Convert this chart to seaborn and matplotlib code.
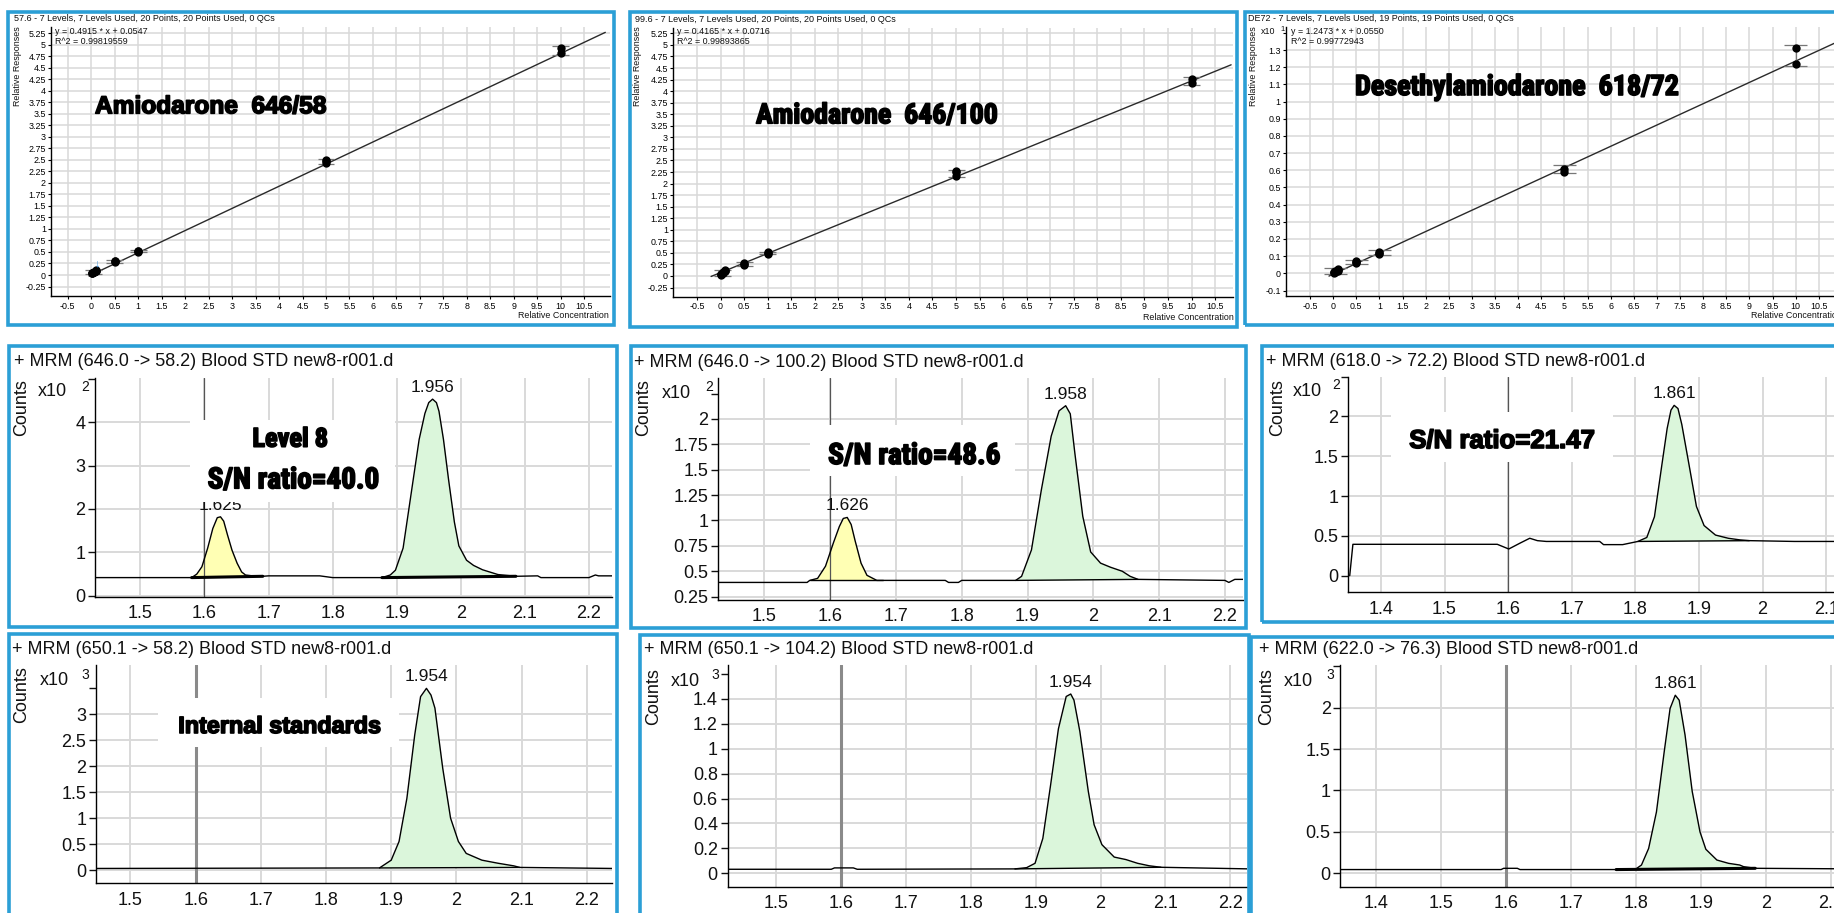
import os
import numpy as np
import matplotlib
matplotlib.use("Agg")
import matplotlib.pyplot as plt
import matplotlib.patheffects as pe
from matplotlib import font_manager as fm
from matplotlib.textpath import TextPath
import seaborn as sns
from matplotlib.patches import Rectangle
from matplotlib.ticker import FixedLocator, FuncFormatter

# ====================== DATA ======================
# --- calibration curves (top row) ---
cal1_title = "57.6 - 7 Levels, 7 Levels Used, 20 Points, 20 Points Used, 0 QCs"
cal1_eq = ["y = 0.4915 * x + 0.0547", "R^2 = 0.99819559"]
cal1_name = "Amiodarone  646/58"
cal1_x = [0.02, 0.02, 0.02, 0.05, 0.05, 0.05, 0.1, 0.1, 0.1, 0.5, 0.5, 0.5, 1, 1, 1, 5, 5, 5, 10, 10]
cal1_y = [0.04, 0.05, 0.05, 0.06, 0.07, 0.06, 0.08, 0.09, 0.10, 0.28, 0.30, 0.31, 0.50, 0.52, 0.53, 2.44, 2.47, 2.49, 4.82, 4.93]
fit1_x = [-0.05, 10.95]
fit1_y = [-0.02, 5.27]
err1_x = [0.05, 0.5, 1, 5, 10]
err1_lo = [0.02, 0.27, 0.49, 2.42, 4.78]
err1_hi = [0.10, 0.32, 0.54, 2.51, 4.97]

cal2_title = "99.6 - 7 Levels, 7 Levels Used, 20 Points, 20 Points Used, 0 QCs"
cal2_eq = ["y = 0.4165 * x + 0.0716", "R^2 = 0.99893865"]
cal2_name = "Amiodarone  646/100"
cal2_x = [0.02, 0.02, 0.02, 0.05, 0.05, 0.05, 0.1, 0.1, 0.1, 0.5, 0.5, 0.5, 1, 1, 1, 5, 5, 5, 10, 10]
cal2_y = [0.02, 0.04, 0.05, 0.06, 0.07, 0.08, 0.10, 0.11, 0.12, 0.23, 0.26, 0.29, 0.48, 0.50, 0.51, 2.17, 2.24, 2.28, 4.17, 4.27]
fit2_x = [-0.2, 10.84]
fit2_y = [-0.01, 4.57]
err2_x = [0.05, 0.5, 1, 5, 10]
err2_lo = [0.00, 0.22, 0.47, 2.15, 4.14]
err2_hi = [0.13, 0.30, 0.52, 2.30, 4.30]

cal3_title = "DE72 - 7 Levels, 7 Levels Used, 19 Points, 19 Points Used, 0 QCs"
cal3_eq = ["y = 1.2473 * x + 0.0550", "R^2 = 0.99772943"]
cal3_name = "Desethylamiodarone  618/72"
cal3_x = [0.02, 0.02, 0.02, 0.05, 0.05, 0.05, 0.1, 0.1, 0.1, 0.5, 0.5, 0.5, 1, 1, 1, 5, 5, 10, 10]
cal3_y = [0.0, 0.005, 0.01, 0.005, 0.01, 0.015, 0.015, 0.02, 0.025, 0.06, 0.065, 0.07, 0.115, 0.12, 0.125, 0.59, 0.61, 1.22, 1.31]
fit3_x = [-0.09, 11.0]
fit3_y = [-0.016, 1.36]
err3_x = [0.05, 0.5, 1, 5, 10]
err3_lo = [-0.005, 0.055, 0.105, 0.585, 1.205]
err3_hi = [0.03, 0.075, 0.135, 0.63, 1.33]

cal_xticks = [-0.5, 0, 0.5, 1, 1.5, 2, 2.5, 3, 3.5, 4, 4.5, 5, 5.5, 6, 6.5, 7, 7.5, 8, 8.5, 9, 9.5, 10, 10.5]
cal12_yticks = [-0.25, 0, 0.25, 0.5, 0.75, 1, 1.25, 1.5, 1.75, 2, 2.25, 2.5, 2.75, 3, 3.25, 3.5, 3.75, 4, 4.25, 4.5, 4.75, 5, 5.25]
cal3_yticks = [-0.1, 0, 0.1, 0.2, 0.3, 0.4, 0.5, 0.6, 0.7, 0.8, 0.9, 1, 1.1, 1.2, 1.3]

# --- chromatograms ---
ch1_title = "+ MRM (646.0 -> 58.2) Blood STD new8-r001.d"
ch1_t = [1.42, 1.58, 1.588, 1.596, 1.605, 1.613, 1.62, 1.625, 1.63, 1.636, 1.643, 1.651, 1.658, 1.664, 1.675, 1.691,
         1.70, 1.78, 1.79, 1.80, 1.877, 1.89, 1.898, 1.91, 1.923, 1.935, 1.944, 1.95, 1.956, 1.962, 1.966, 1.973, 1.981,
         1.99, 1.997, 2.009, 2.02, 2.034, 2.058, 2.086, 2.12, 2.125, 2.20, 2.21, 2.215, 2.24]
ch1_c = [0.42, 0.42, 0.50, 0.67, 1.10, 1.55, 1.80, 1.82, 1.72, 1.40, 1.05, 0.75, 0.55, 0.48, 0.46, 0.45,
         0.46, 0.46, 0.44, 0.42, 0.42, 0.48, 0.59, 1.10, 2.40, 3.60, 4.20, 4.45, 4.53, 4.45, 4.25, 3.60, 2.67,
         1.70, 1.15, 0.82, 0.70, 0.60, 0.49, 0.45, 0.46, 0.42, 0.42, 0.48, 0.46, 0.46]
ch1_peaks = [(1.58, 1.691, "yellow", True), (1.877, 2.086, "green", True)]
ch1_labels = [(1.625, 1.82, "1.625"), (1.956, 4.53, "1.956")]
ch1_yticks = [0, 1, 2, 3, 4]

ch2_title = "+ MRM (646.0 -> 100.2) Blood STD new8-r001.d"
ch2_t = [1.43, 1.565, 1.569, 1.581, 1.593, 1.605, 1.614, 1.62, 1.626, 1.632, 1.638, 1.647, 1.656, 1.671, 1.68,
         1.775, 1.78, 1.795, 1.80, 1.882, 1.891, 1.906, 1.921, 1.936, 1.948, 1.958, 1.965, 1.972, 1.984, 1.996,
         2.011, 2.026, 2.044, 2.056, 2.068, 2.20, 2.206, 2.215, 2.23]
ch2_c = [0.39, 0.39, 0.41, 0.43, 0.55, 0.78, 0.94, 1.02, 1.03, 0.96, 0.80, 0.58, 0.46, 0.41, 0.41,
         0.41, 0.39, 0.39, 0.41, 0.41, 0.45, 0.71, 1.30, 1.83, 2.08, 2.13, 2.05, 1.66, 1.04, 0.69,
         0.58, 0.54, 0.50, 0.45, 0.42, 0.41, 0.39, 0.42, 0.42]
ch2_peaks = [(1.569, 1.68, "yellow", False), (1.882, 2.068, "green", False)]
ch2_labels = [(1.626, 1.03, "1.626"), (1.958, 2.13, "1.958")]
ch2_yticks = [0.25, 0.5, 0.75, 1, 1.25, 1.5, 1.75, 2]

ch3_title = "+ MRM (618.0 -> 72.2) Blood STD new8-r001.d"
ch3_t = [1.351, 1.356, 1.583, 1.601, 1.619, 1.634, 1.646, 1.66, 1.744, 1.75, 1.78, 1.804, 1.818, 1.83, 1.842,
         1.85, 1.856, 1.861, 1.867, 1.873, 1.884, 1.896, 1.908, 1.926, 1.946, 1.964, 1.979, 2.05, 2.21]
ch3_c = [0.0, 0.394, 0.394, 0.335, 0.41, 0.47, 0.44, 0.43, 0.43, 0.39, 0.39, 0.43, 0.48, 0.74, 1.41,
         1.85, 2.08, 2.14, 2.10, 1.90, 1.41, 0.87, 0.63, 0.51, 0.47, 0.45, 0.44, 0.43, 0.43]
ch3_peaks = [(1.804, 1.979, "green", False)]
ch3_labels = [(1.861, 2.14, "1.861")]
ch3_yticks = [0, 0.5, 1, 1.5, 2]

ch4_title = "+ MRM (650.1 -> 58.2) Blood STD new8-r001.d"
ch4_t = [1.447, 1.882, 1.9, 1.912, 1.924, 1.936, 1.945, 1.954, 1.961, 1.967, 1.979, 1.991, 2.003, 2.015, 2.039,
         2.064, 2.088, 2.097, 2.24]
ch4_c = [0.03, 0.04, 0.19, 0.55, 1.38, 2.60, 3.34, 3.50, 3.37, 3.12, 1.96, 1.00, 0.55, 0.32, 0.19,
         0.13, 0.08, 0.05, 0.03]
ch4_peaks = [(1.882, 2.097, "green", False)]
ch4_labels = [(1.954, 3.50, "1.954")]
ch4_yticks = [0, 0.5, 1, 1.5, 2, 2.5, 3]

ch5_title = "+ MRM (650.1 -> 104.2) Blood STD new8-r001.d"
ch5_t = [1.425, 1.585, 1.59, 1.619, 1.625, 1.868, 1.886, 1.899, 1.911, 1.923, 1.935, 1.947, 1.954, 1.959, 1.968,
         1.981, 1.99, 2.002, 2.021, 2.039, 2.057, 2.075, 2.093, 2.23]
ch5_c = [0.032, 0.032, 0.043, 0.043, 0.032, 0.035, 0.045, 0.08, 0.28, 0.71, 1.16, 1.42, 1.44, 1.39, 1.14,
         0.66, 0.39, 0.23, 0.13, 0.11, 0.08, 0.06, 0.048, 0.035]
ch5_peaks = [(1.868, 2.093, "green", False)]
ch5_labels = [(1.954, 1.44, "1.954")]
ch5_yticks = [0, 0.2, 0.4, 0.6, 0.8, 1, 1.2, 1.4]

ch6_title = "+ MRM (622.0 -> 76.3) Blood STD new8-r001.d"
ch6_t = [1.346, 1.593, 1.597, 1.618, 1.622, 1.77, 1.80, 1.809, 1.82, 1.832, 1.844, 1.853, 1.861, 1.867, 1.876,
         1.887, 1.899, 1.908, 1.925, 1.943, 1.96, 1.966, 1.984, 2.21]
ch6_c = [0.045, 0.045, 0.06, 0.06, 0.045, 0.045, 0.05, 0.10, 0.30, 0.74, 1.47, 1.99, 2.15, 2.09, 1.67,
         0.99, 0.50, 0.29, 0.16, 0.12, 0.10, 0.08, 0.06, 0.05]
ch6_peaks = [(1.77, 1.984, "green", True)]
ch6_labels = [(1.861, 2.15, "1.861")]
ch6_yticks = [0, 0.5, 1, 1.5, 2]

xt_a = [1.5, 1.6, 1.7, 1.8, 1.9, 2.0, 2.1, 2.2]
xt_b = [1.4, 1.5, 1.6, 1.7, 1.8, 1.9, 2.0, 2.1, 2.2]

# big annotations: text, anchor x, baseline y, ha, target width, target cap height (px)
notes = [
    (cal1_name, 95, 113.3, 'left', 233, 18.3),
    (cal2_name, 756, 123.3, 'left', 243, 20),
    (cal3_name, 1355, 95, 'left', 325, 20),
    ("Level 8", 290, 446.7, 'center', 77, 20),
    ("S/N ratio=40.0", 293.3, 488.3, 'center', 173, 20),
    ("S/N ratio=48.6", 914, 464, 'center', 174, 20),
    ("S/N ratio=21.47", 1502, 448, 'center', 187, 18.5),
    ("Internal standards", 279.6, 733, 'center', 204, 17),
]

# ====================== STYLE / LAYOUT ======================
sns.set_theme(style="white")
plt.rcParams['font.family'] = ['Liberation Sans', 'DejaVu Sans']
plt.rcParams['axes.unicode_minus'] = False

W, H = 1834, 913
fig = plt.figure(figsize=(W / 100, H / 100), dpi=100)
fig.patch.set_facecolor('white')
renderer = fig.canvas.get_renderer()

BLUE = '#2b9fd6'
GRID = '#d9d9d9'
FILLS = {"yellow": '#ffffb4', "green": '#dbf6db'}
fmt = FuncFormatter(lambda v, p: '%g' % round(v, 4))
HEAVY = [pe.withStroke(linewidth=1.2, foreground='black')]


def find_condensed():
    prefs = ['notosans-extracondensedblack', 'notosans-extracondensedextrabold', 'notosans-condensedblack',
             'notosans-condensedextrabold', 'robotocondensed-black', 'robotocondensed-bold',
             'notosans-extracondensedbold', 'notosans-condensedbold', 'dejavusanscondensed-bold',
             'liberationsansnarrow-bold', 'opensans-condensedbold', 'opensanscondensed-bold']
    files = {}
    for f in fm.fontManager.ttflist:
        key = os.path.basename(f.fname).lower().replace(' ', '').replace('_', '-')
        files[key.rsplit('.', 1)[0]] = f.fname
    for p in prefs:
        for k in sorted(files):
            if k.startswith(p) and 'italic' not in k:
                return fm.FontProperties(fname=files[k])
    for k in sorted(files):
        if ('condensed' in k or 'narrow' in k) and ('bold' in k or 'black' in k) and 'italic' not in k:
            return fm.FontProperties(fname=files[k])
    return None


CANDS = [fm.FontProperties(family=['Liberation Sans', 'DejaVu Sans'], weight='bold')]
_c = find_condensed()
if _c is not None:
    CANDS.append(_c)


def px_axes(l, t, r, b):
    return fig.add_axes([l / W, 1 - b / H, (r - l) / W, (b - t) / H])


def ftext(x, y, s, size, **kw):
    return fig.text(x / W, 1 - y / H, s, fontsize=size, **kw)


def big_text(s, x, y, ha, target_w, target_h):
    best = None
    for prop in CANDS:
        t = fig.text(0, 0, s, fontproperties=prop, fontsize=20)
        w20 = t.get_window_extent(renderer).width
        t.remove()
        size = 20 * (target_w - 1.5) / w20
        cap = TextPath((0, 0), 'H', size=100, prop=prop).get_extents().height / 100
        cap_px = cap * size * 100 / 72
        err = abs(cap_px - target_h)
        if best is None or err < best[0]:
            best = (err, prop, size)
    _, prop, size = best
    return fig.text(x / W, 1 - y / H, s, fontproperties=prop, fontsize=size, ha=ha, va='baseline',
                    color='black', zorder=16, path_effects=HEAVY)


def border(l, t, r, b, lw=2.6):
    fig.add_artist(Rectangle((l / W, 1 - b / H), (r - l) / W, (b - t) / H, transform=fig.transFigure,
                             fill=False, ec=BLUE, lw=lw, zorder=20))


def white_box(l, t, r, b):
    fig.add_artist(Rectangle((l / W, 1 - b / H), (r - l) / W, (b - t) / H, transform=fig.transFigure,
                             fill=True, fc='white', ec='none', zorder=15))


def style_axes(ax):
    for s in ('top', 'right'):
        ax.spines[s].set_visible(False)
    for s in ('left', 'bottom'):
        ax.spines[s].set_color('black')
        ax.spines[s].set_linewidth(1.0)
    ax.set_facecolor('white')


def cal_panel(box, xlim, ylim, yticks, ytop, px, py, fx, fy, ex, elo, ehi, cap):
    ax = px_axes(*box)
    style_axes(ax)
    sns.lineplot(x=fx, y=fy, ax=ax, color='#2a2a2a', lw=1.0, estimator=None, sort=False, zorder=3)
    ax.vlines(ex, elo, ehi, colors='#777777', lw=0.9, zorder=3)
    for x0, lo, hi in zip(ex, elo, ehi):
        ax.hlines([lo, hi], x0 - cap, x0 + cap, colors='#777777', lw=0.9, zorder=3)
    sns.scatterplot(x=px, y=py, ax=ax, color='black', s=36, linewidth=0, zorder=5, legend=False)
    ax.set_xlim(*xlim)
    ax.set_ylim(*ylim)
    ax.set_xticks(cal_xticks)
    ax.set_yticks(yticks)
    if ytop is not None:
        ax.yaxis.set_minor_locator(FixedLocator([ytop]))
    ax.xaxis.set_major_formatter(fmt)
    ax.yaxis.set_major_formatter(fmt)
    ax.grid(True, which='major', color=GRID, lw=1.1)
    ax.set_axisbelow(True)
    ax.tick_params(which='both', direction='out', length=2.5, width=0.8, labelsize=6.4, pad=1.5,
                   left=True, bottom=True, colors='black')
    ax.set_xlabel('')
    ax.set_ylabel('')
    return ax


def chrom(box, xlim, ylim, xticks, yticks, ytop, t, c, peaks, labels, vl_color, vl_lw):
    ax = px_axes(*box)
    style_axes(ax)
    tt = np.array(t)
    cc = np.array(c)
    for t0, t1, col, bold in peaks:
        m = (tt >= t0) & (tt <= t1)
        b0, b1 = np.interp(t0, tt, cc), np.interp(t1, tt, cc)
        base = np.interp(tt[m], [t0, t1], [b0, b1])
        ax.fill_between(tt[m], base, cc[m], color=FILLS[col], lw=0, zorder=2)
        ax.plot([t0, t1], [b0, b1], color='black', lw=2.2 if bold else 1.0, zorder=3)
    ax.axvline(1.6, color=vl_color, lw=vl_lw, zorder=2.5)
    sns.lineplot(x=t, y=c, ax=ax, color='black', lw=1.0, estimator=None, sort=False, zorder=4)
    for x0, y0, s in labels:
        ax.annotate(s, (x0, y0), xytext=(0, 3), textcoords='offset points', ha='center', va='bottom',
                    fontsize=12.5, color='#111111', zorder=6)
    ax.set_xlim(*xlim)
    ax.set_ylim(*ylim)
    ax.set_xticks(xticks)
    ax.set_yticks(yticks)
    ax.yaxis.set_minor_locator(FixedLocator([ytop]))
    ax.xaxis.set_major_formatter(fmt)
    ax.yaxis.set_major_formatter(fmt)
    ax.grid(True, which='major', color=GRID, lw=1.4)
    ax.set_axisbelow(True)
    ax.tick_params(axis='y', which='both', direction='out', length=5, width=1.0, labelsize=13, pad=2,
                   left=True, colors='#111111')
    ax.tick_params(axis='x', which='both', length=0, labelsize=13, pad=6, bottom=True, colors='#111111')
    ax.set_xlabel('')
    ax.set_ylabel('')
    return ax


# ---------------- top row: calibration curves ----------------
axT1 = cal_panel((51.4, 26.7, 610, 296), (-0.85, 11.05), (-0.456, 5.393), cal12_yticks, None,
                 cal1_x, cal1_y, fit1_x, fit1_y, err1_x, err1_lo, err1_hi, 0.18)
axT1.annotate("\u2193", (0.12, 0.14), ha='center', va='bottom', color='#3a8fd8', fontsize=8, zorder=6)
axT2 = cal_panel((673.4, 28.3, 1233, 296.7), (-1.0, 10.88), (-0.448, 5.36), cal12_yticks, None,
                 cal2_x, cal2_y, fit2_x, fit2_y, err2_x, err2_lo, err2_hi, 0.18)
axT3 = cal_panel((1286.2, 26.7, 1842, 296), (-1.015, 11.0), (-0.132, 1.436), cal3_yticks, 1.4,
                 cal3_x, cal3_y, fit3_x, fit3_y, err3_x, err3_lo, err3_hi, 0.25)

small = dict(va='center', ha='left', color='#111111')
ftext(13.8, 18.3, cal1_title, 6.5, **small)
ftext(635, 19.3, cal2_title, 6.5, **small)
ftext(1247.6, 18.3, cal3_title, 6.5, **small)
ftext(55, 31, cal1_eq[0], 6.4, **small)
ftext(55, 41, cal1_eq[1], 6.4, **small)
ftext(677, 32, cal2_eq[0], 6.4, **small)
ftext(677, 42, cal2_eq[1], 6.4, **small)
ftext(1291, 31, cal3_eq[0], 6.4, **small)
ftext(1291, 41.7, cal3_eq[1], 6.4, **small)
ftext(1261, 32, "x10", 6.4, **small)
ftext(1280, 29.5, "1", 5.5, **small)
for x in (17.8, 637.8, 1253):
    ftext(x, 66, "Relative Responses", 6.4, rotation=90, ha='center', va='center', color='#111111')
ftext(608.7, 315, "Relative Concentration", 6.4, ha='right', va='center', color='#111111')
ftext(1233.4, 318, "Relative Concentration", 6.4, ha='right', va='center', color='#111111')
ftext(1842, 315, "Relative Concentration", 6.4, ha='right', va='center', color='#111111')

# ---------------- row 2 & 3: chromatograms ----------------
chrom((94.9, 378.3, 612, 596.7), (1.429, 2.236), (-0.02, 5.01), xt_a, ch1_yticks, 5,
      ch1_t, ch1_c, ch1_peaks, ch1_labels, '#555555', 0.9)
chrom((718, 378.3, 1243, 600), (1.4296, 2.2275), (0.217, 2.40), xt_a, ch2_yticks, 2.25,
      ch2_t, ch2_c, ch2_peaks, ch2_labels, '#555555', 0.9)
chrom((1348, 376.7, 1900, 592.3), (1.3483, 2.216), (-0.209, 2.50), xt_b, ch3_yticks, 2.5,
      ch3_t, ch3_c, ch3_peaks, ch3_labels, '#555555', 0.9)
chrom((96, 665, 612, 883.3), (1.4472, 2.2386), (-0.256, 3.95), xt_a, ch4_yticks, 3.5,
      ch4_t, ch4_c, ch4_peaks, ch4_labels, '#8a8a8a', 2.2)
chrom((727.5, 665, 1247, 886.7), (1.4251, 2.2256), (-0.108, 1.673), xt_a, ch5_yticks, 1.6,
      ch5_t, ch5_c, ch5_peaks, ch5_labels, '#8a8a8a', 2.2)
chrom((1340.4, 665, 1900, 886.7), (1.3458, 2.2067), (-0.162, 2.515), xt_b, ch6_yticks, 2.5,
      ch6_t, ch6_c, ch6_peaks, ch6_labels, '#8a8a8a', 2.2)

mid = dict(va='center', ha='left', color='#111111')
for (x, y, s) in [(13.8, 361.7, ch1_title), (633.8, 362.3, ch2_title), (1266.5, 361.7, ch3_title),
                  (12, 650, ch4_title), (644.5, 650, ch5_title), (1259, 650, ch6_title)]:
    ftext(x, y, s, 13, **mid)
for (x, y) in [(21.7, 408), (643.7, 408), (1278, 408), (21.7, 695), (653.6, 697), (1266.5, 697)]:
    ftext(x, y, "Counts", 13, rotation=90, ha='center', va='center', color='#111111')
for (x, y, sx, sy, e) in [(37.5, 391.7, 81, 386.7, "2"), (661.5, 393, 705, 387, "2"), (1293, 391, 1332, 385, "2"),
                          (39.5, 680, 81, 675, "3"), (671, 682, 711, 675, "3"), (1283.6, 682, 1326, 675, "3")]:
    ftext(x, y, "x10", 13, **mid)
    ftext(sx, sy, e, 10, **mid)

# white boxes behind the chromatogram notes
white_box(190, 420, 395, 502)
white_box(810, 425, 1015, 476)
white_box(1391, 412, 1613, 462)
white_box(158, 698, 399, 747)

for s, x, y, ha, tw, th in notes:
    big_text(s, x, y, ha, tw, th)

# panel borders
border(8, 11.7, 614, 325)
border(630, 11.7, 1237, 327)
border(1244.5, 11.7, 1850, 325)
border(8.7, 346, 617, 626.7)
border(631, 346, 1245.6, 628)
border(1262, 346, 1850, 621.7)
border(8.7, 634.3, 617, 930)
border(639.8, 635, 1249, 930)
border(1251.4, 636.7, 1850, 930)

fig.savefig("out.png", dpi=100, facecolor='white')
